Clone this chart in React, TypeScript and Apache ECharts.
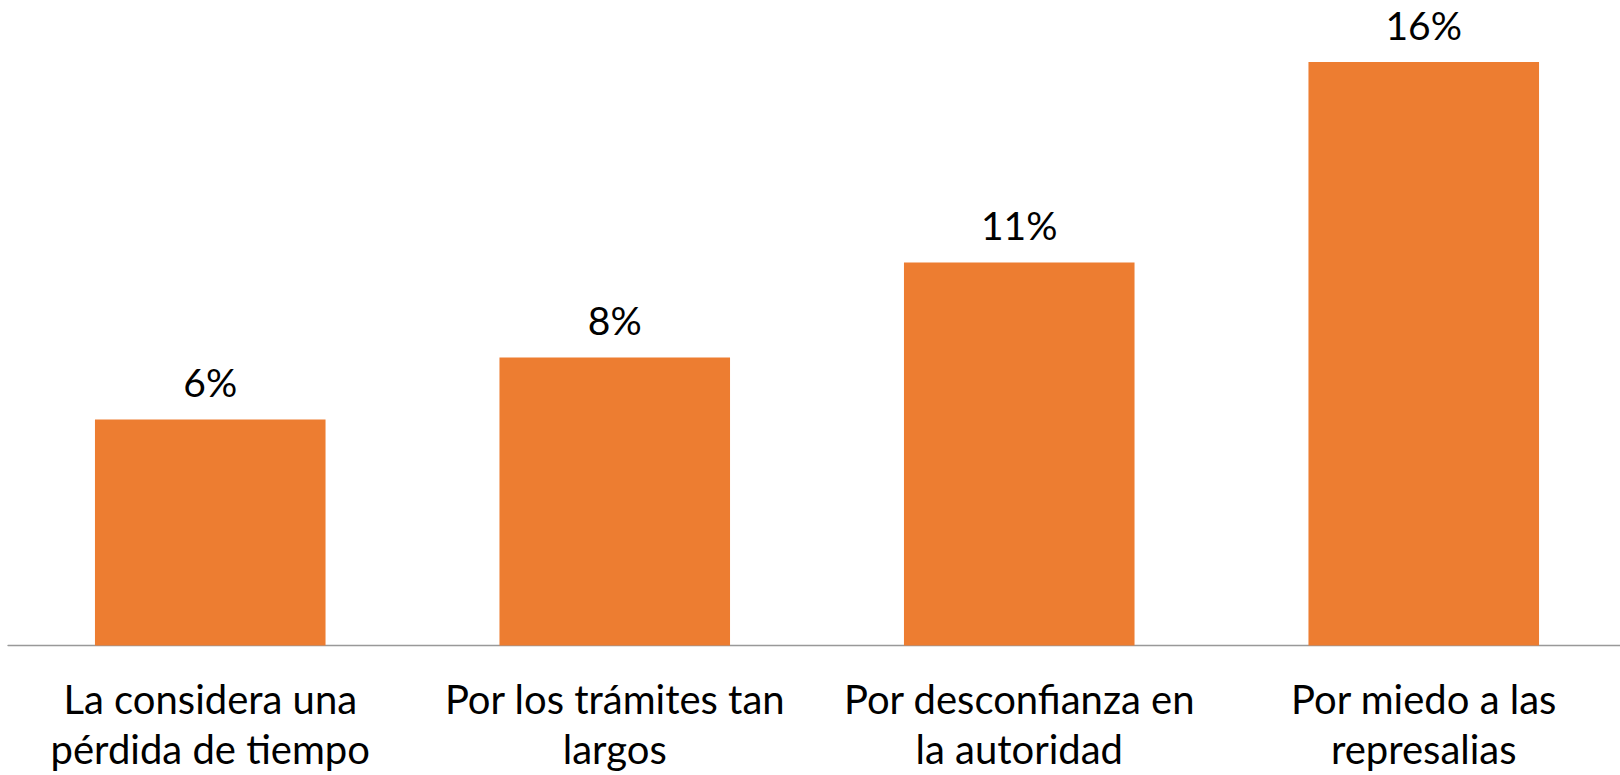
import React, { useEffect, useRef } from "react";
import * as echarts from "echarts";

const categories = [
  "La considera una\npérdida de tiempo",
  "Por los trámites tan\nlargos",
  "Por desconfianza en\nla autoridad",
  "Por miedo a las\nrepresalias",
];
const values = [6.2, 7.9, 10.5, 16.0];

export default function App() {
  const ref = useRef<HTMLDivElement>(null);
  useEffect(() => {
    const chart = echarts.init(ref.current!, null, { renderer: "svg" });
    chart.setOption({
      animation: false,
      backgroundColor: "#ffffff",
      grid: {
        left: 8,
        right: 0,
        top: 62,
        bottom: 129.5,
        containLabel: false,
        outerBoundsMode: "none",
      },
      xAxis: {
        type: "category",
        data: categories,
        axisLine: { show: true, lineStyle: { color: "#999999", width: 1.3 } },
        axisTick: { show: false },
        axisLabel: {
          interval: 0,
          color: "#000000",
          fontFamily: "Lato",
          fontSize: 40,
          lineHeight: 50,
          margin: 28,
        },
      },
      yAxis: {
        type: "value",
        min: 0,
        max: 16,
        show: false,
        splitLine: { show: false },
      },
      series: [
        {
          type: "bar",
          data: values,
          barWidth: "57%",
          itemStyle: { color: "#ED7D31" },
          label: {
            show: true,
            position: "top",
            distance: 18,
            color: "#000000",
            fontFamily: "Lato",
            fontSize: 39,
            formatter: (p: any) => Math.round(p.value) + "%",
          },
        },
      ],
    });
    return () => chart.dispose();
  }, []);
  return (
    <div
      ref={ref}
      style={{ position: "fixed", left: 0, top: 0, width: 1626, height: 775 }}
    />
  );
}
